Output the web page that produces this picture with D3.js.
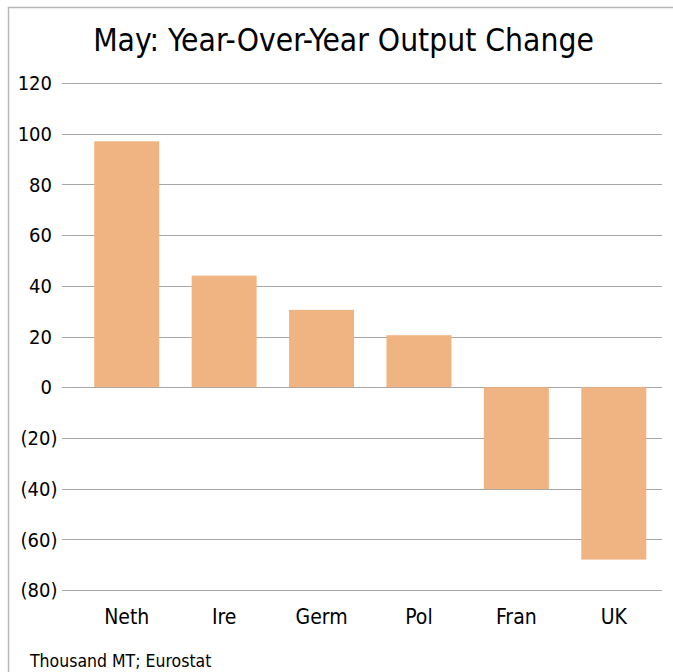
<!DOCTYPE html>
<html>
<head>
<meta charset="utf-8">
<script src="https://cdn.jsdelivr.net/npm/d3@7"></script>
<style>
	body { margin: 0; background: #fff; }
	text { font-family: "DejaVu Sans Condensed", "DejaVu Sans", sans-serif; fill: #000; }
</style>
</head>
<body>
<svg id="chart" width="673" height="672"></svg>
<script>
let countries = ['Neth', 'Ire', 'Germ', 'Pol', 'Fran', 'UK']
let changes = [97, 44, 30.5, 20.5, -40.2, -68]
let yTicks = [120, 100, 80, 60, 40, 20, 0, -20, -40, -60, -80]
let title = 'May: Year-Over-Year Output Change'
let note = 'Thousand MT; Eurostat'

let svg = d3.select('#chart')

// outer frame
svg.append('rect')
	.attr('x', 8.5).attr('y', 7.5)
	.attr('width', 680).attr('height', 680)
	.attr('fill', 'none')
	.attr('stroke', '#b8b8b8')
	.attr('stroke-width', 1.5)

let yScale = d3.scaleLinear().domain([-80, 120]).range([590, 83])
let xScale = d3.scaleBand().domain(countries).range([78, 662.5]).paddingInner(0.333).paddingOuter(0.1665)

// gridlines
svg.append('g').selectAll('line')
	.data(yTicks)
	.join('line')
	.attr('x1', 62).attr('x2', 662)
	.attr('y1', d => Math.round(yScale(d)) + 0.5)
	.attr('y2', d => Math.round(yScale(d)) + 0.5)
	.attr('stroke', '#a6a6a6')
	.attr('stroke-width', 1.2)

// y labels, accounting style negatives
svg.append('g').selectAll('text')
	.data(yTicks)
	.join('text')
	.attr('x', d => d < 0 ? 57.5 : 52)
	.attr('y', d => yScale(d))
	.attr('dy', '0.36em')
	.attr('text-anchor', 'end')
	.attr('font-size', 20)
	.text(d => d < 0 ? '(' + Math.abs(d) + ')' : d)

// bars
svg.append('g').selectAll('rect')
	.data(countries)
	.join('rect')
	.attr('x', d => xScale(d))
	.attr('width', xScale.bandwidth())
	.attr('y', (d, i) => yScale(Math.max(0, changes[i])))
	.attr('height', (d, i) => Math.abs(yScale(changes[i]) - yScale(0)))
	.attr('fill', '#f0b482')

// category labels
svg.append('g').selectAll('text')
	.data(countries)
	.join('text')
	.attr('x', d => xScale(d) + xScale.bandwidth() / 2)
	.attr('y', 624)
	.attr('text-anchor', 'middle')
	.attr('font-size', 21)
	.text(d => d)

svg.append('text')
	.attr('x', 343.5)
	.attr('y', 51)
	.attr('text-anchor', 'middle')
	.attr('font-size', 31.5)
	.text(title)

svg.append('text')
	.attr('x', 30)
	.attr('y', 667)
	.attr('font-size', 17.5)
	.text(note)
</script>
</body>
</html>
